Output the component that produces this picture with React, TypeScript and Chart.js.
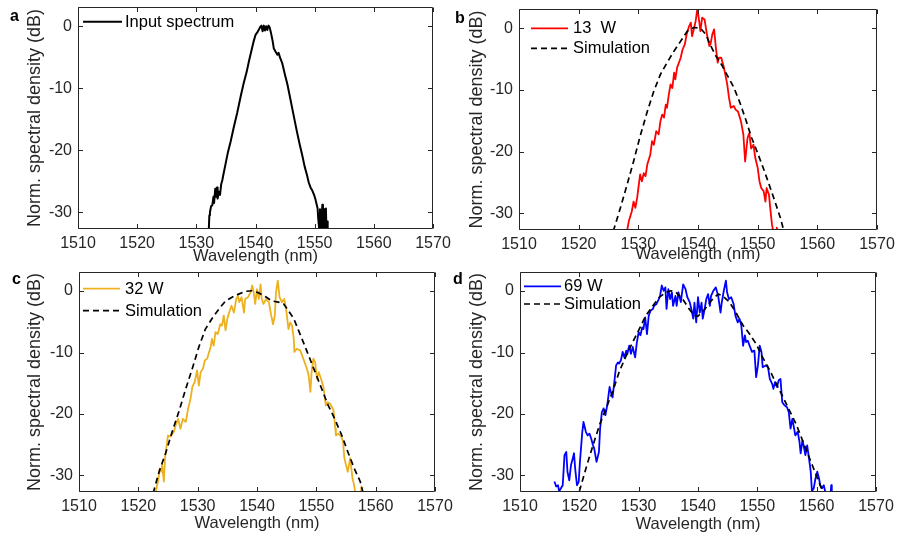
import React, { useEffect, useRef } from "react";
import { Chart, registerables } from "chart.js";
Chart.register(...registerables);

// ---------------- data ----------------
const X_TICKS = [1510, 1520, 1530, 1540, 1550, 1560, 1570];
const Y_TICKS = [-30, -20, -10, 0];
const X_MIN = 1510;
const X_MAX = 1570;
const Y_MIN = -32.7;
const Y_MAX = 3.1;

const X_TITLE = "Wavelength (nm)";
const Y_TITLE = "Norm. spectral density (dB)";

type P = [number, number | null];

const INPUT_SPECTRUM: P[] = [
  [1532.1, -33], [1532.2, -30.5], [1532.3, -30.0], [1532.5, -29.0], [1532.7, -28.9], [1532.9, -27.5],
  [1533.0, -28.5], [1533.2, -26.2], [1533.3, -27.5], [1533.5, -26.0], [1533.6, -27.8], [1533.8, -26.7],
  [1534.0, -27.2], [1534.2, -25.5], [1534.4, -24.8], [1534.6, -23.8], [1534.9, -22.4], [1535.3, -20.5],
  [1535.8, -18.6], [1536.3, -16.4], [1536.9, -14.0], [1537.5, -11.3], [1538.0, -9.2], [1538.5, -7.4],
  [1538.9, -5.6], [1539.3, -4.0], [1539.7, -2.4], [1540.0, -1.4], [1540.3, -1.0], [1540.6, -0.5],
  [1540.8, -0.1], [1541.0, 0.1], [1541.2, -0.8], [1541.4, 0.1], [1541.6, -0.7], [1541.8, 0.0],
  [1542.0, -0.6], [1542.2, 0.1], [1542.4, -0.2], [1542.6, -1.0], [1542.9, -2.4], [1543.1, -3.6],
  [1543.4, -4.1], [1543.7, -4.6], [1543.9, -4.3], [1544.2, -5.2], [1544.5, -5.9], [1545.0, -7.9],
  [1545.4, -9.4], [1545.8, -11.3], [1546.2, -13.2], [1546.6, -15.1], [1547.0, -17.0], [1547.5, -19.2],
  [1547.9, -20.8], [1548.3, -22.6], [1548.7, -24.0], [1549.0, -25.2], [1549.3, -26.0], [1549.6, -26.5],
  [1549.9, -27.2], [1550.1, -27.8], [1550.3, -28.6], [1550.5, -29.4], [1550.6, -31.0], [1550.8, -33],
  [1550.9, -29.5], [1551.0, -31.5], [1551.1, -33], [1551.2, -30.5], [1551.3, -28.8], [1551.4, -33],
  [1551.5, -32], [1551.6, -29.5], [1551.7, -33], [1551.8, -31], [1551.9, -29.4], [1552.0, -33],
  [1552.1, -31.5], [1552.2, -33],
];

const MEAS_13W: P[] = [
  [1528.1, -32.9], [1528.4, -31.3], [1528.9, -29.7], [1529.2, -28.1], [1529.5, -29.1], [1529.8, -27.5],
  [1530.3, -23.7], [1530.6, -24.8], [1530.9, -23.5], [1531.2, -24.0], [1531.5, -22.1], [1532.0, -20.5],
  [1532.3, -18.3], [1532.6, -18.9], [1533.0, -16.7], [1533.4, -17.2], [1533.7, -15.1], [1534.0, -14.0],
  [1534.3, -14.5], [1534.6, -12.4], [1534.8, -12.9], [1535.1, -10.8], [1535.4, -9.1], [1535.7, -9.7],
  [1536.0, -7.2], [1536.2, -8.3], [1536.5, -6.4], [1537.1, -4.8], [1537.4, -3.5], [1537.8, -2.6],
  [1538.1, -1.0], [1538.5, 0.3], [1538.8, 0.9], [1539.0, -1.3], [1539.3, -0.2], [1539.6, 1.1],
  [1539.9, 3.2], [1540.2, 1.1], [1540.4, -0.5], [1540.7, 1.7], [1541.1, 1.4], [1541.5, -1.0],
  [1541.9, -2.9], [1542.1, -2.6], [1542.4, -1.0], [1542.7, -0.2], [1543.0, -3.2], [1543.3, -5.6],
  [1543.5, -4.8], [1543.9, -4.8], [1544.3, -6.2], [1544.7, -8.1], [1544.9, -9.1], [1545.2, -11.3],
  [1545.5, -12.9], [1546.0, -12.6], [1546.3, -13.2], [1546.7, -13.5], [1547.2, -15.1], [1547.6, -17.2],
  [1547.9, -21.6], [1548.3, -17.8], [1548.6, -17.0], [1548.9, -19.5], [1549.3, -18.9], [1549.6, -21.0],
  [1550.0, -22.6], [1550.3, -24.8], [1550.6, -25.9], [1551.0, -26.4], [1551.3, -28.1], [1551.5, -25.9],
  [1551.9, -27.0], [1552.1, -29.1], [1552.4, -31.8], [1552.6, -32.9], [1552.9, null],
  [1553.1, -32.9], [1553.2, -32.3], [1553.3, -32.9],
];

const SIM_13W: P[] = [
  [1525.8, -32.9], [1527.0, -29.1], [1528.1, -25.4], [1529.2, -21.6], [1530.3, -17.5], [1531.5, -13.5],
  [1532.6, -10.2], [1533.7, -7.5], [1534.8, -5.6], [1536.0, -3.7], [1537.1, -2.1], [1538.2, -0.5],
  [1539.3, 0.1], [1540.4, 0.0], [1541.3, -1.0], [1542.1, -2.8], [1543.0, -4.5], [1544.0, -6.0],
  [1545.0, -7.8], [1546.0, -9.6], [1547.0, -12.0], [1548.0, -14.8], [1549.0, -17.8], [1549.9, -20.0],
  [1550.8, -22.3], [1551.8, -25.0], [1552.8, -27.8], [1553.8, -30.7], [1554.4, -32.9],
];

const MEAS_32W: P[] = [
  [1522.9, -32.9], [1523.4, -30.5], [1523.6, -28.9], [1523.9, -29.4], [1524.0, -28.3], [1524.3, -31.0],
  [1524.5, -27.2], [1524.7, -25.6], [1525.0, -23.5], [1525.4, -23.7], [1526.0, -22.9], [1526.3, -21.8],
  [1526.7, -20.8], [1527.1, -22.4], [1527.5, -20.8], [1528.0, -21.3], [1528.4, -19.1], [1528.8, -17.5],
  [1529.1, -15.6], [1529.5, -14.8], [1529.9, -12.9], [1530.2, -15.4], [1530.5, -13.2], [1530.9, -12.6],
  [1531.2, -11.3], [1531.6, -11.0], [1531.9, -10.0], [1532.2, -9.1], [1532.4, -7.8], [1532.7, -8.9],
  [1533.0, -6.7], [1533.4, -7.0], [1533.8, -5.4], [1534.1, -5.6], [1534.4, -4.0], [1534.7, -6.4],
  [1535.0, -4.5], [1535.4, -3.2], [1535.7, -2.4], [1536.1, -3.5], [1536.5, -1.3], [1536.8, -0.8],
  [1537.0, -1.8], [1537.4, -1.0], [1537.8, -3.5], [1538.0, -1.3], [1538.5, -1.0], [1538.9, -0.2],
  [1539.2, 0.9], [1539.4, 0.05], [1539.7, -2.1], [1540.0, 0.3], [1540.3, -1.3], [1540.6, 1.1],
  [1540.8, -1.3], [1541.1, -2.1], [1541.5, -1.3], [1542.0, -1.8], [1542.4, -4.0], [1542.7, -5.4],
  [1543.0, -4.0], [1543.2, -0.2], [1543.5, 1.7], [1543.8, -1.0], [1544.2, -1.8], [1544.6, -1.3],
  [1544.9, -2.9], [1545.3, -6.2], [1545.6, -5.1], [1545.9, -5.6], [1546.2, -7.8], [1546.3, -9.9],
  [1546.7, -9.4], [1547.3, -9.7], [1547.8, -11.0], [1548.4, -12.6], [1548.7, -13.7], [1549.0, -16.4],
  [1549.2, -13.2], [1549.5, -11.0], [1549.8, -11.6], [1550.1, -14.3], [1550.4, -13.2], [1550.8, -14.3],
  [1551.2, -15.6], [1551.6, -18.6], [1551.9, -18.1], [1552.3, -18.3], [1552.9, -19.4], [1553.2, -22.4],
  [1553.3, -23.5], [1553.7, -23.2], [1554.2, -23.7], [1554.5, -24.5], [1554.7, -27.0], [1555.0, -28.3],
  [1555.3, -29.4], [1555.7, -27.2], [1556.1, -30.5], [1556.3, -31.3], [1556.6, -32.9], [1557.1, null],
  [1557.5, -32.9], [1557.6, -31.8], [1557.8, -32.9],
];

const SIM_32W: P[] = [
  [1522.5, -32.9], [1523.5, -29.4], [1524.6, -26.4], [1525.7, -22.9], [1526.8, -19.7], [1528.0, -15.9],
  [1529.1, -12.6], [1530.2, -9.1], [1531.3, -6.2], [1532.4, -4.5], [1533.6, -2.9], [1534.7, -1.6],
  [1535.8, -1.0], [1536.9, -0.5], [1538.0, -0.05], [1539.2, 0.05], [1540.3, -0.3], [1541.4, -0.9],
  [1542.5, -1.6], [1543.6, -1.8], [1544.5, -2.1], [1545.3, -3.2], [1546.2, -4.5], [1547.0, -6.4],
  [1547.8, -8.3], [1548.7, -10.5], [1549.8, -13.2], [1550.9, -15.9], [1552.0, -18.6], [1553.1, -20.8],
  [1554.3, -23.5], [1555.4, -26.4], [1556.5, -29.1], [1557.4, -31.0], [1557.9, -32.9],
];

const MEAS_69W: P[] = [
  [1515.8, -31.0], [1516.1, -31.8], [1516.4, -31.6], [1516.6, -32.6], [1516.9, -32.1], [1517.2, -31.6],
  [1517.5, -26.7], [1517.8, -26.2], [1518.0, -29.4], [1518.3, -30.8], [1518.6, -28.3], [1518.9, -27.2],
  [1519.1, -26.4], [1519.3, -28.9], [1519.6, -31.6], [1519.9, -31.0], [1520.1, -27.8], [1520.5, -22.9],
  [1520.7, -21.3], [1521.1, -22.9], [1521.4, -23.5], [1521.7, -23.2], [1522.0, -24.0], [1522.3, -25.1],
  [1522.5, -25.6], [1522.9, -27.8], [1523.3, -26.2], [1523.5, -22.4], [1523.8, -19.7], [1524.1, -19.1],
  [1524.4, -20.2], [1524.7, -18.6], [1525.1, -15.6], [1525.3, -16.4], [1525.6, -17.3], [1525.9, -14.8],
  [1526.2, -12.1], [1526.5, -11.6], [1526.7, -11.8], [1527.0, -11.3], [1527.3, -9.9], [1527.6, -10.8],
  [1527.9, -9.7], [1528.1, -10.2], [1528.4, -8.9], [1528.7, -10.2], [1529.0, -9.1], [1529.4, -10.8],
  [1529.7, -8.3], [1530.0, -6.7], [1530.3, -7.2], [1530.6, -5.9], [1530.8, -6.2], [1531.1, -4.3],
  [1531.4, -7.0], [1531.7, -4.0], [1532.0, -3.2], [1532.4, -2.9], [1532.6, -2.4], [1533.0, -2.1],
  [1533.4, -1.3], [1533.6, -0.8], [1533.9, 0.9], [1534.2, 0.05], [1534.5, 0.6], [1534.7, -2.9],
  [1535.0, 0.3], [1535.3, -1.3], [1535.6, -0.2], [1535.8, -2.4], [1536.2, -0.8], [1536.4, -2.4],
  [1536.7, -0.2], [1537.1, -1.8], [1537.5, 1.1], [1537.9, 0.3], [1538.2, -1.0], [1538.6, -1.8],
  [1538.9, -3.0], [1539.2, -4.5], [1539.4, -1.9], [1539.7, -5.1], [1540.0, -1.0], [1540.3, -3.5],
  [1540.6, -1.9], [1540.8, -4.5], [1541.1, -3.0], [1541.4, -1.3], [1541.7, -0.5], [1542.0, -2.4],
  [1542.2, -0.8], [1542.6, 0.05], [1543.0, 0.6], [1543.4, -0.8], [1543.8, -3.5], [1544.0, -1.9],
  [1544.3, -0.2], [1544.7, 1.7], [1544.9, -0.2], [1545.2, -1.3], [1545.6, -1.0], [1546.0, -2.1],
  [1546.3, -4.0], [1546.7, -5.1], [1547.0, -4.5], [1547.3, -5.6], [1547.6, -8.9], [1547.9, -7.2],
  [1548.1, -8.3], [1548.4, -8.1], [1548.7, -8.9], [1549.1, -9.9], [1549.5, -9.7], [1549.8, -14.0],
  [1550.1, -12.1], [1550.4, -8.9], [1550.7, -9.9], [1550.9, -12.4], [1551.4, -12.1], [1551.8, -12.4],
  [1552.1, -14.3], [1552.5, -15.1], [1552.7, -15.9], [1553.0, -14.8], [1553.3, -15.6], [1553.6, -14.5],
  [1553.9, -14.3], [1554.2, -18.1], [1554.6, -18.6], [1555.0, -18.9], [1555.3, -19.7], [1555.6, -22.4],
  [1555.9, -20.8], [1556.2, -22.4], [1556.4, -23.5], [1556.8, -22.9], [1557.1, -24.5], [1557.3, -26.4],
  [1557.6, -24.3], [1557.8, -25.1], [1558.1, -26.7], [1558.4, -25.1], [1558.7, -27.2], [1559.0, -29.4],
  [1559.2, -32.6], [1559.5, -32.1], [1559.8, -30.5], [1560.1, -29.4], [1560.4, -30.5], [1560.6, -31.6],
  [1560.9, -32.1], [1561.2, -31.6], [1561.5, -32.9], [1562.0, null],
  [1562.35, -32.9], [1562.45, -31.6], [1562.55, -32.9],
];

const SIM_69W: P[] = [
  [1520.0, -32.6], [1521.1, -28.9], [1522.3, -25.1], [1523.4, -21.8], [1524.5, -19.1], [1525.6, -16.4],
  [1526.7, -13.2], [1527.9, -10.5], [1529.0, -8.3], [1530.1, -6.2], [1531.2, -4.0], [1532.4, -2.4],
  [1533.5, -1.0], [1534.6, -0.2], [1535.4, 0.05], [1536.3, -0.2], [1537.4, -1.3], [1538.5, -2.9],
  [1539.4, -4.0], [1540.0, -4.1], [1541.1, -3.0], [1542.2, -1.6], [1543.4, -0.5], [1544.2, -0.8],
  [1545.3, -1.8], [1546.5, -3.7], [1547.6, -5.6], [1548.7, -7.0], [1549.8, -8.6], [1550.9, -10.8],
  [1552.1, -12.9], [1553.2, -15.1], [1554.3, -17.2], [1555.4, -19.4], [1556.6, -21.8], [1557.7, -24.5],
  [1558.8, -27.2], [1559.9, -29.9], [1560.8, -32.1], [1561.0, -32.9],
];

// ---------------- styling ----------------
const FONT = "'Liberation Sans', Arial, Helvetica, sans-serif";
const AXIS_COLOR = "#262626";
const RED = "#ff0000";
const GOLD = "#edb120";
const BLUE = "#0000ff";
const BLACK = "#000000";

type Series = { label: string; data: P[]; color: string; dash?: number[]; width: number; order: number };

type Panel = {
  left: number; top: number; width: number; height: number;
  padTop: number; padRight: number; yW: number; xH: number;
  yTitlePad: number; xTitlePad: number;
  letter: string; letterX: number; letterY: number;
  legX1: number; legX2: number; legTx: number; legY: number[];
  series: Series[];
};

const PANELS: Panel[] = [
  {
    left: 0, top: 0, width: 468, height: 268,
    padTop: 7, padRight: 35, yW: 78, xH: 39, yTitlePad: 24, xTitlePad: 2,
    letter: "a", letterX: 10, letterY: 20.5,
    legX1: 83, legX2: 122, legTx: 125, legY: [21.7],
    series: [{ label: "Input spectrum", data: INPUT_SPECTRUM, color: BLACK, width: 2, order: 1 }],
  },
  {
    left: 448, top: 0, width: 449, height: 268,
    padTop: 9, padRight: 20, yW: 71, xH: 38, yTitlePad: 18.5, xTitlePad: 4,
    letter: "b", letterX: 7, letterY: 22.5,
    legX1: 83, legX2: 120, legTx: 125, legY: [28.3, 48.3],
    series: [
      { label: "13  W", data: MEAS_13W, color: RED, width: 1.8, order: 1 },
      { label: "Simulation", data: SIM_13W, color: BLACK, dash: [6, 4], width: 1.7, order: 0 },
    ],
  },
  {
    left: 0, top: 268, width: 468, height: 269,
    padTop: 4, padRight: 33, yW: 79, xH: 45, yTitlePad: 24, xTitlePad: 3.5,
    letter: "c", letterX: 12, letterY: 16,
    legX1: 83, legX2: 120, legTx: 125, legY: [20.7, 42.7],
    series: [
      { label: "32 W", data: MEAS_32W, color: GOLD, width: 1.8, order: 1 },
      { label: "Simulation", data: SIM_32W, color: BLACK, dash: [6, 4], width: 1.7, order: 0 },
    ],
  },
  {
    left: 448, top: 268, width: 449, height: 269,
    padTop: 4, padRight: 21, yW: 72, xH: 45, yTitlePad: 18.5, xTitlePad: 2.5,
    letter: "d", letterX: 5, letterY: 16,
    legX1: 76, legX2: 113, legTx: 116, legY: [18.3, 36],
    series: [
      { label: "69 W", data: MEAS_69W, color: BLUE, width: 1.8, order: 1 },
      { label: "Simulation", data: SIM_69W, color: BLACK, dash: [6, 4], width: 1.7, order: 0 },
    ],
  },
];

function makeDecor(p: Panel) {
  return {
    id: "decor",
    afterDatasetsDraw(chart: any) {
      const { ctx, chartArea: a, scales } = chart;
      const x = scales.x;
      const y = scales.y;
      ctx.save();
      ctx.strokeStyle = AXIS_COLOR;
      ctx.lineWidth = 1;
      const L = Math.round(a.left) + 0.5;
      const R = Math.round(a.right) - 0.5;
      const T = Math.round(a.top) + 0.5;
      const B = Math.round(a.bottom) - 0.5;
      ctx.beginPath();
      ctx.rect(L, T, R - L, B - T);
      const tl = 4.5;
      for (const v of X_TICKS) {
        const px = Math.round(x.getPixelForValue(v)) + 0.5;
        ctx.moveTo(px, B); ctx.lineTo(px, B - tl);
        ctx.moveTo(px, T); ctx.lineTo(px, T + tl);
      }
      for (const v of Y_TICKS) {
        const py = Math.round(y.getPixelForValue(v)) + 0.5;
        ctx.moveTo(L, py); ctx.lineTo(L + tl, py);
        ctx.moveTo(R, py); ctx.lineTo(R - tl, py);
      }
      ctx.stroke();
      ctx.restore();
    },
    afterDraw(chart: any) {
      const { ctx } = chart;
      ctx.save();
      // panel letter
      ctx.fillStyle = BLACK;
      ctx.font = `bold 16px ${FONT}`;
      ctx.textBaseline = "alphabetic";
      ctx.textAlign = "left";
      ctx.fillText(p.letter, p.letterX, p.letterY);
      // legend
      ctx.font = `16.5px ${FONT}`;
      ctx.textBaseline = "middle";
      p.series.forEach((s, i) => {
        const ly = p.legY[i];
        ctx.strokeStyle = s.color;
        ctx.lineWidth = s.width;
        ctx.setLineDash(s.dash || []);
        ctx.beginPath();
        ctx.moveTo(p.legX1, ly);
        ctx.lineTo(p.legX2, ly);
        ctx.stroke();
        ctx.setLineDash([]);
        ctx.fillStyle = BLACK;
        ctx.fillText(s.label, p.legTx, ly + 0.5);
      });
      ctx.restore();
    },
  };
}

function PanelChart({ p }: { p: Panel }) {
  const ref = useRef<HTMLCanvasElement | null>(null);
  useEffect(() => {
    if (!ref.current) return;
    const chart = new Chart(ref.current, {
      type: "line",
      data: {
        datasets: p.series.map((s) => ({
          label: s.label,
          data: s.data.map(([x, y]) => ({ x, y })),
          borderColor: s.color,
          borderWidth: s.width,
          borderDash: s.dash || [],
          pointRadius: 0,
          fill: false,
          tension: 0,
          spanGaps: false,
          clip: 0,
          order: s.order,
          borderJoinStyle: "round",
        })) as any,
      },
      options: {
        responsive: false,
        animation: false,
        events: [],
        layout: { padding: { left: 0, top: p.padTop, right: p.padRight, bottom: 0 } },
        plugins: { legend: { display: false }, tooltip: { enabled: false } },
        scales: {
          x: {
            type: "linear",
            min: X_MIN,
            max: X_MAX,
            afterBuildTicks: (s: any) => { s.ticks = X_TICKS.map((v) => ({ value: v })); },
            afterFit: (s: any) => {
              s.height = p.xH;
              s.paddingLeft = 0; s.paddingRight = 0; s.paddingTop = 0; s.paddingBottom = 0;
            },
            grid: { display: false, drawTicks: false, tickLength: 0 },
            border: { display: false },
            ticks: {
              padding: 5,
              color: AXIS_COLOR,
              font: { family: FONT, size: 16 },
              maxRotation: 0,
              autoSkip: false,
              callback: (v: any) => String(v),
            },
            title: {
              display: true,
              text: X_TITLE,
              color: AXIS_COLOR,
              font: { family: FONT, size: 16.5 },
              padding: { top: 0, bottom: p.xTitlePad },
            },
          },
          y: {
            type: "linear",
            min: Y_MIN,
            max: Y_MAX,
            afterBuildTicks: (s: any) => { s.ticks = Y_TICKS.map((v) => ({ value: v })); },
            afterFit: (s: any) => {
              s.width = p.yW;
              s.paddingLeft = 0; s.paddingRight = 0; s.paddingTop = 0; s.paddingBottom = 0;
            },
            grid: { display: false, drawTicks: false, tickLength: 0 },
            border: { display: false },
            ticks: {
              padding: 6,
              color: AXIS_COLOR,
              font: { family: FONT, size: 16 },
              autoSkip: false,
              callback: (v: any) => String(v),
            },
            title: {
              display: true,
              text: Y_TITLE,
              color: AXIS_COLOR,
              font: { family: FONT, size: 18 },
              padding: { top: p.yTitlePad, bottom: 0 },
            },
          },
        },
      } as any,
      plugins: [makeDecor(p)],
    });
    return () => chart.destroy();
  }, [p]);
  return (
    <canvas
      ref={ref}
      width={p.width}
      height={p.height}
      style={{ position: "absolute", left: p.left, top: p.top, width: p.width, height: p.height }}
    />
  );
}

export default function App() {
  return (
    <div style={{ position: "absolute", left: 0, top: 0, width: 897, height: 537, background: "#ffffff", overflow: "hidden" }}>
      {PANELS.map((p, i) => (
        <PanelChart key={i} p={p} />
      ))}
    </div>
  );
}
